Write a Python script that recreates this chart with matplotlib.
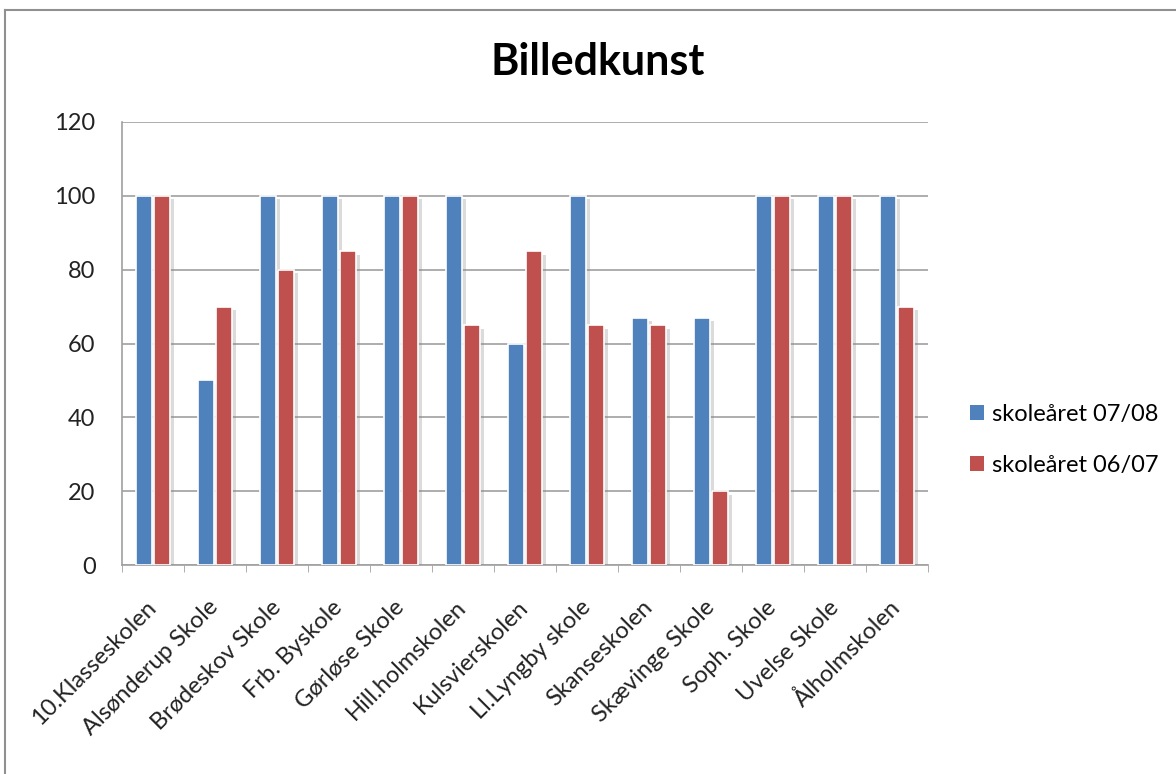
import matplotlib
matplotlib.use("Agg")
import matplotlib.pyplot as plt
import matplotlib.patheffects as pe
from matplotlib.lines import Line2D
from matplotlib.patches import Patch
import numpy as np

plt.rcParams['font.family'] = ['Lato', 'DejaVu Sans']

categories = ["10.Klasseskolen", "Alsønderup Skole", "Brødeskov Skole", "Frb. Byskole",
              "Gørløse Skole", "Hill.holmskolen", "Kulsvierskolen", "Ll.Lyngby skole",
              "Skanseskolen", "Skævinge Skole", "Soph. Skole", "Uvelse Skole", "Ålholmskolen"]
series_0708 = [100, 50, 100, 100, 100, 100, 60, 100, 67, 67, 100, 100, 100]
series_0607 = [100, 70, 80, 85, 100, 65, 85, 65, 65, 20, 100, 100, 70]
series_labels = ["skoleåret 07/08", "skoleåret 06/07"]
title = "Billedkunst"
yticks = [0, 20, 40, 60, 80, 100, 120]

blue = "#4F81BD"
red = "#C0504D"

fig = plt.figure(figsize=(11.76, 7.74), dpi=100)
ax = fig.add_axes([122/1176, 1 - 565/774, (928-122)/1176, (565-122)/774])

x = np.arange(len(categories))
w = 0.27
shadow = [pe.SimplePatchShadow(offset=(2.5, -2.5), shadow_rgbFace='#888888', alpha=0.3), pe.Normal()]
b1 = ax.bar(x - 0.145, series_0708, width=w, color=blue, edgecolor='white', linewidth=1.2, zorder=3)
b2 = ax.bar(x + 0.145, series_0607, width=w, color=red, edgecolor='white', linewidth=1.2, zorder=3)
for p in list(b1) + list(b2):
    p.set_path_effects(shadow)

ax.set_xlim(-0.5, len(categories) - 0.5)
ax.set_ylim(0, 120)
ax.set_yticks(yticks)
ax.set_yticklabels([str(v) for v in yticks], fontsize=17, color='#222222')
ax.yaxis.grid(True, color='#A0A0A0', linewidth=1.2, zorder=0)
ax.set_axisbelow(True)
for s in ['top', 'right']:
    ax.spines[s].set_visible(False)
for s in ['left', 'bottom']:
    ax.spines[s].set_color('#A0A0A0')
    ax.spines[s].set_linewidth(1.2)
ax.tick_params(axis='y', length=0, pad=19)
ax.set_xticks(x)
ax.set_xticklabels(categories, rotation=45, ha='right', va='center', rotation_mode='anchor',
                   fontsize=17, color='#222222')
ax.tick_params(axis='x', which='major', length=0, pad=28)
ax.set_xticks(np.arange(-0.5, len(categories), 1), minor=True)
ax.tick_params(axis='x', which='minor', length=5, color='#A0A0A0')

fig.text(598/1176, 1 - 62/774, title, ha='center', va='center', fontsize=31, fontweight='bold')

handles = [Patch(facecolor=blue), Patch(facecolor=red)]
fig.legend(handles=handles, labels=series_labels, loc='center left',
           bbox_to_anchor=(970/1176, 1 - 440/774), frameon=False, fontsize=17,
           handlelength=0.6, handleheight=0.6, handletextpad=0.35, labelspacing=1.27,
           borderpad=0, borderaxespad=0)

fig.add_artist(Line2D([5/1176, 5/1176], [0, 1 - 10/774], color='#909090', linewidth=1.5))
fig.add_artist(Line2D([5/1176, 1], [1 - 10/774, 1 - 10/774], color='#909090', linewidth=1.5))

fig.savefig("out.png", dpi=100)
